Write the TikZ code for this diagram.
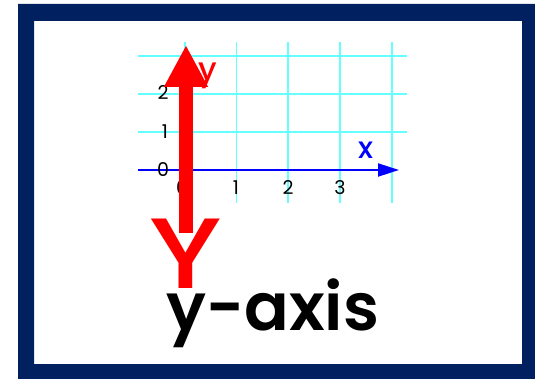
\documentclass[tikz,border=0pt]{standalone}
\usepackage{fontspec}
\setmainfont{Poppins}
\newfontfamily\chunkyfont{Poppins SemiBold}
\newfontfamily\markfont{Poppins Medium}
\usepackage{tikz}
\usetikzlibrary{arrows.meta,positioning}
\usepackage{xcolor}
\definecolor{axisFrame}{HTML}{00205F}
\definecolor{axisGrid}{HTML}{66FFFF}
\definecolor{axisBlue}{HTML}{0000FF}
\definecolor{axisRed}{HTML}{FF0000}

\begin{document}
\begin{tikzpicture}[
        x=1pt, y=-1pt,
        grid/.style={
            draw=axisGrid,
            line width=1.5pt
        },
        tick/.style={
            inner sep=0pt,
            font=\fontsize{19}{19}\selectfont
        },
        xaxis/.style={
            -{Triangle[length=21pt,width=13pt]},
            line width=2pt,
            draw=axisBlue
        },
        yarrow/.style={
            -{Triangle[length=42pt,width=41pt]},
            line width=13.5pt,
            draw=axisRed
        }
    ]
    \useasboundingbox (0,0) rectangle (535,379);
    \fill[axisFrame, even odd rule] (18,4) rectangle (535,379) (34,21) rectangle (522,364);

    \foreach \gx in {185,236.5,288,340,392}
        \draw[grid] (\gx,42) -- (\gx,203);
    \foreach \gy in {56,94,132}
        \draw[grid] (138,\gy) -- (407,\gy);

    \coordinate (xstart) at (138,170);
    \coordinate (xend) at (399,170);
    \draw[xaxis] (xstart) -- (xend);
    \node[font=\fontsize{30}{30}\markfont, text=axisBlue, inner sep=0pt] (xlabel) at (366,150) {x};

    \node[tick] (ytwo) at (163,93) {2};
    \node[tick] (yone) at (165,132) {1};
    \node[tick] (yzero) at (163,170) {0};
    \node[tick] (xzero) at (182,188) {0};
    \node[tick] (xone) at (236,188) {1};
    \node[tick] (xtwo) at (288,188) {2};
    \node[tick] (xthree) at (340,188) {3};

    \node[font=\fontsize{32}{32}\markfont, text=axisRed, inner sep=0pt] (ylabel) at (208,76) {y};

    \coordinate (ybottom) at (186,233);
    \coordinate (ytop) at (186,45);
    \draw[yarrow] (ybottom) -- (ytop);

    \node[anchor=base, inner sep=0pt, text=axisRed, font=\fontsize{100}{100}\markfont, xscale=1.2] (bigY) at (186,288) {Y};

    \node[anchor=base west, inner sep=0pt, font=\fontsize{66}{66}\chunkyfont] (title) at (166,330) {y-axis};
\end{tikzpicture}
\end{document}
